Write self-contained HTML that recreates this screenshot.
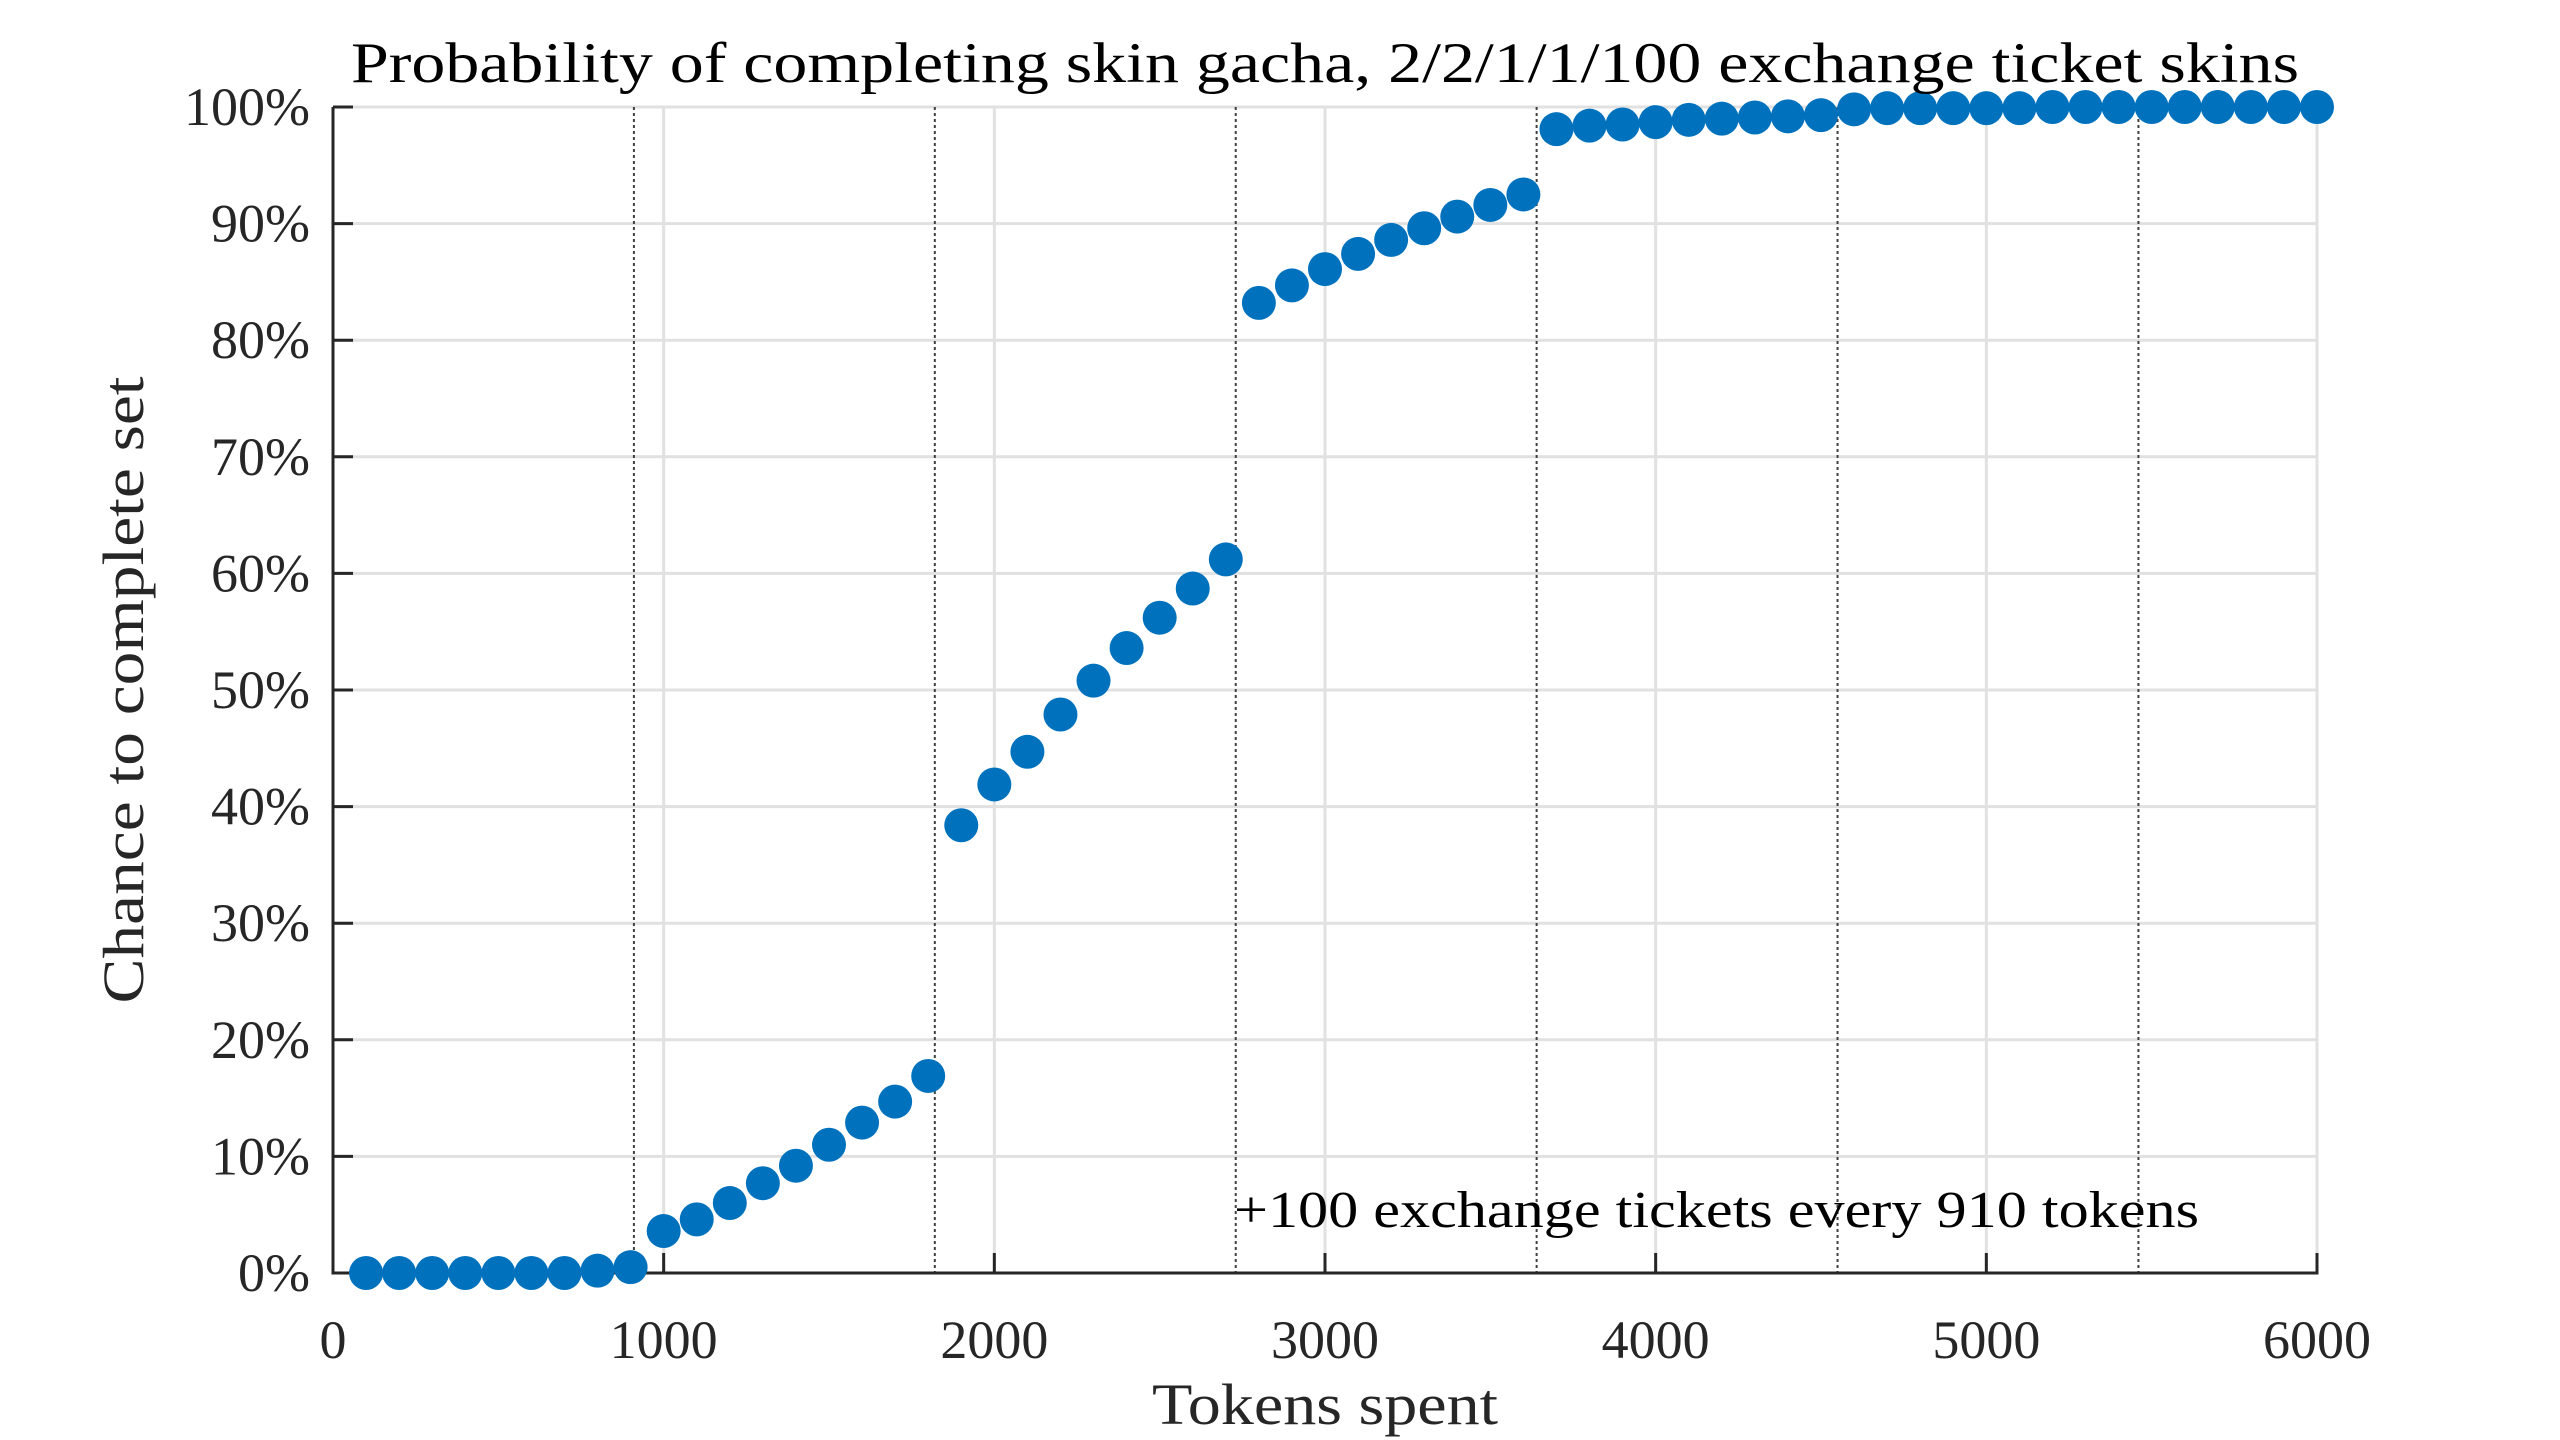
<!DOCTYPE html>
<html><head><meta charset="utf-8"><style>
html,body{margin:0;padding:0;background:#fff;}
svg{display:block;font-family:"Liberation Serif",serif;}
</style></head><body>
<svg id="chart" width="2560" height="1440" viewBox="0 0 2560 1440">
<g id="grid"></g>
<g id="vlines"></g>
<g id="axes"></g>
<g id="ticks"></g>
<g id="points"></g>
<text x="1325" y="82" font-size="57" text-anchor="middle" fill="#000" textLength="1948" lengthAdjust="spacingAndGlyphs">Probability of completing skin gacha, 2/2/1/1/100 exchange ticket skins</text>
<text x="1325" y="1424" font-size="58" text-anchor="middle" fill="#262626" textLength="346" lengthAdjust="spacingAndGlyphs">Tokens spent</text>
<text transform="translate(143,690) rotate(-90)" font-size="58" text-anchor="middle" fill="#262626" textLength="627" lengthAdjust="spacingAndGlyphs">Chance to complete set</text>
<text x="1234" y="1227" font-size="52" fill="#000" textLength="965" lengthAdjust="spacingAndGlyphs">+100 exchange tickets every 910 tokens</text>
</svg>
<script>
const tokens = [100,200,300,400,500,600,700,800,900,1000,1100,1200,1300,1400,1500,1600,1700,1800,1900,2000,2100,2200,2300,2400,2500,2600,2700,2800,2900,3000,3100,3200,3300,3400,3500,3600,3700,3800,3900,4000,4100,4200,4300,4400,4500,4600,4700,4800,4900,5000,5100,5200,5300,5400,5500,5600,5700,5800,5900,6000];
const chance = [0,0,0,0,0,0,0,0.2,0.5,3.6,4.6,6.0,7.7,9.2,11.0,12.9,14.7,16.9,38.4,41.9,44.7,47.9,50.8,53.6,56.2,58.7,61.2,83.2,84.7,86.1,87.4,88.6,89.6,90.6,91.6,92.5,98.1,98.4,98.5,98.7,98.9,99.0,99.1,99.2,99.3,99.8,99.9,99.9,99.9,99.9,99.9,100,100,100,100,100,100,100,100,100];
const xTicks = [0,1000,2000,3000,4000,5000,6000];
const yTicks = [0,10,20,30,40,50,60,70,80,90,100];
const exchangeMarks = [910,1820,2730,3640,4550,5460];

const NS="http://www.w3.org/2000/svg";
const L=333,R=2317,T=107,B=1273;
const xs=v=>L+(v-0)/6000*(R-L);
const ys=v=>B-(v/100)*(B-T);
function mk(tag,attrs,parent){const e=document.createElementNS(NS,tag);for(const k in attrs)e.setAttribute(k,attrs[k]);parent.appendChild(e);return e;}
const grid=document.getElementById('grid'),vl=document.getElementById('vlines'),ax=document.getElementById('axes'),tk=document.getElementById('ticks'),pts=document.getElementById('points');
xTicks.forEach(t=>{
  if(t>0){const g=mk('line',{x1:xs(t),x2:xs(t),y1:T,y2:B,stroke:'#e1e1e1','stroke-width':3},grid);
  
  }
  const tl=mk('line',{x1:xs(t),x2:xs(t),y1:B,y2:B-20,stroke:'#262626','stroke-width':3},ax);
  
  
  const lb=mk('text',{x:xs(t),y:1358,'font-size':54,'text-anchor':'middle',fill:'#262626'},tk);
  lb.textContent=t;
  
  
});
yTicks.forEach(t=>{
  if(t>0){const g=mk('line',{x1:L,x2:R,y1:ys(t),y2:ys(t),stroke:'#e1e1e1','stroke-width':3},grid);
  
  }
  const tl=mk('line',{x1:L,x2:L+20,y1:ys(t),y2:ys(t),stroke:'#262626','stroke-width':3},ax);
  
  
  const lb=mk('text',{x:310,y:ys(t)+18,'font-size':54,'text-anchor':'end',fill:'#262626'},tk);
  lb.textContent=t+'%';
  
  
});
exchangeMarks.forEach(m=>{
  const l=mk('line',{x1:xs(m),x2:xs(m),y1:T,y2:B,stroke:'#404040','stroke-width':2,'stroke-dasharray':'3,3'},vl);
  
  
});
const a1=mk('line',{x1:L,x2:L,y1:T,y2:B+1.5,stroke:'#262626','stroke-width':3},ax);


const a2=mk('line',{x1:L-1.5,x2:R+1.5,y1:B,y2:B,stroke:'#262626','stroke-width':3},ax);


tokens.forEach((t,i)=>{
  const c=mk('circle',{cx:xs(t),cy:ys(chance[i]),r:17,fill:'#0072bd'},pts);
  
  
});
</script>
</body></html>
